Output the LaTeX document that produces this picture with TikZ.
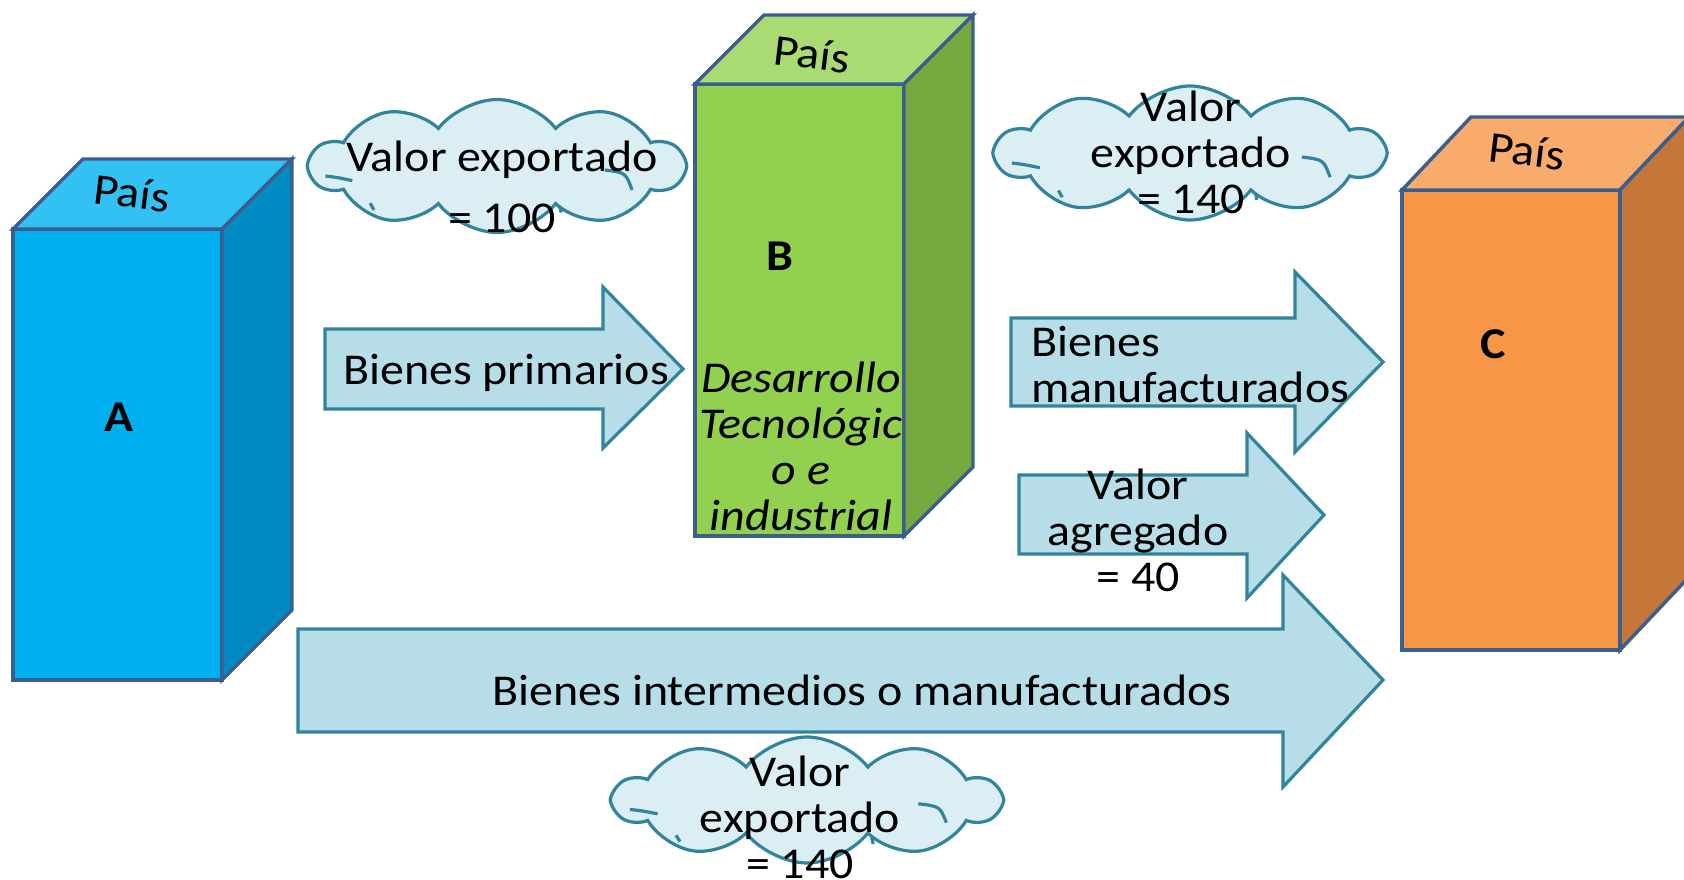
\documentclass[tikz,border=0pt]{standalone}
\usepackage{fontspec}
\setmainfont{Carlito}[FakeStretch=1.09]
\usetikzlibrary{shapes.symbols}
\definecolor{edge}{HTML}{3B5E8E}
\definecolor{aedge}{HTML}{31849B}
\definecolor{afill}{HTML}{B7DEE8}
\definecolor{cfill}{HTML}{DBEEF4}
\definecolor{Afront}{HTML}{00B0F0}
\definecolor{Atop}{HTML}{33C0F3}
\definecolor{Aside}{HTML}{008CC2}
\definecolor{Bfront}{HTML}{92D050}
\definecolor{Btop}{HTML}{A9DA74}
\definecolor{Bside}{HTML}{76A83F}
\definecolor{Cfront}{HTML}{F79646}
\definecolor{Ctop}{HTML}{F9AB6B}
\definecolor{Cside}{HTML}{C5773A}
\tikzset{
  boxline/.style={draw=edge, line width=2.6pt},
  arrowshape/.style={draw=aedge, fill=afill, line width=2.4pt},
  cloudshape/.style={cloud, cloud puffs=10, cloud puff arc=105, cloud ignores aspect, draw=aedge, fill=cfill, line width=2.4pt, inner sep=0pt, outer sep=0pt},
  cloudarc/.style={draw=aedge, line width=2.4pt},
  txt/.style={font=\fontsize{33}{34.5}\selectfont, inner sep=0pt, align=center},
}
\newcommand\cloudinner[4]{%
  \begin{scope}[shift={(#1,#2)}, xscale=#3, yscale=#4]
    \path[cloudarc] (-0.46,0.075) .. controls (-0.43,0.085) .. (-0.388,0.11);
    \path[cloudarc] (0.289,0.03) .. controls (0.345,0.05) .. (0.362,0.18);
    \path[cloudarc] (0.168,0.30) .. controls (0.172,0.32) .. (0.172,0.35);
    \path[cloudarc] (-0.34,0.28) .. controls (-0.335,0.30) .. (-0.33,0.33);
  \end{scope}}
\begin{document}
\begin{tikzpicture}[x=0.75pt,y=-0.75pt]
\clip (0,0) rectangle (1684,880);
% Box A
\path[boxline, fill=Afront] (13,229) rectangle (222,680);
\path[boxline, fill=Atop] (13,229) -- (83,159) -- (292,159) -- (222,229) -- cycle;
\path[boxline, fill=Aside] (222,229) -- (292,159) -- (292,610) -- (222,680) -- cycle;
% Box B
\path[boxline, fill=Bfront] (695,84) rectangle (904,536);
\path[boxline, fill=Btop] (695,84) -- (764,15) -- (973,15) -- (904,84) -- cycle;
\path[boxline, fill=Bside] (904,84) -- (973,15) -- (973,467) -- (904,536) -- cycle;
% Box C
\path[boxline, fill=Cfront] (1402,190) rectangle (1620,650);
\path[boxline, fill=Ctop] (1402,190) -- (1471,117) -- (1689,117) -- (1620,190) -- cycle;
\path[boxline, fill=Cside] (1620,190) -- (1689,117) -- (1689,577) -- (1620,650) -- cycle;
% labels on boxes
\node[txt, rotate=-7] (paisA) at (132,193) {País};
\node[txt, rotate=-7] (paisB) at (812,54) {País};
\node[txt, rotate=-7] (paisC) at (1527,151) {País};
\node[txt, font=\fontsize{33}{34.5}\selectfont\bfseries] (A) at (119,417) {A};
\node[txt, font=\fontsize{33}{34.5}\selectfont\bfseries] (B) at (780,256) {B};
\node[txt, font=\fontsize{33}{34.5}\selectfont\bfseries] (C) at (1493,344) {C};
\node[txt, font=\fontsize{33}{34.5}\selectfont\itshape] (Btext) at (801,446) {Desarrollo\\Tecnológic\\o e\\industrial};
% arrows
\path[arrowshape] (325,329) -- (603,329) -- (603,287) -- (683,369) -- (603,448) -- (603,409) -- (325,409) -- cycle;
\path[arrowshape] (1011,318) -- (1295,318) -- (1295,272) -- (1383,362) -- (1295,452) -- (1295,406) -- (1011,406) -- cycle;
\path[arrowshape] (1019,475) -- (1247,475) -- (1247,433) -- (1324,515) -- (1247,598) -- (1247,554) -- (1019,554) -- cycle;
\path[arrowshape] (298,629) -- (1283,629) -- (1283,575) -- (1383,680) -- (1283,787) -- (1283,732) -- (298,732) -- cycle;
\node[txt] (prim) at (506,373) {Bienes primarios};
\node[txt, anchor=west, align=left] (manu) at (1031,365) {Bienes\\manufacturados};
\node[txt] (agreg) at (1138,530) {Valor\\agregado\\= 40};
\node[txt] (inter) at (862,690) {Bienes intermedios o manufacturados};
% clouds
\node[cloudshape, minimum width=373*0.75pt, minimum height=133*0.75pt] (cloud1) at (497,166) {};
\cloudinner{497}{166}{373}{133}
\node[cloudshape, minimum width=387*0.75pt, minimum height=134*0.75pt] (cloud2) at (1190,153) {};
\cloudinner{1190}{153}{387}{134}
\node[cloudshape, minimum width=385*0.75pt, minimum height=126*0.75pt] (cloud3) at (807,800) {};
\cloudinner{807}{800}{385}{126}
\node[txt] (c1a) at (502,160) {Valor exportado};
\node[txt] (c1b) at (502,218) {= 100};
\node[txt] (c2) at (1191,152) {Valor\\exportado\\= 140};
\node[txt] (c3) at (800,817) {Valor\\exportado\\= 140};
\end{tikzpicture}
\end{document}
